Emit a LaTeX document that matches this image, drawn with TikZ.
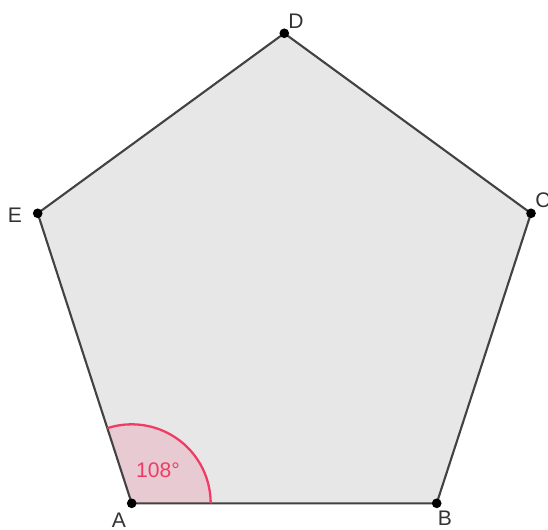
\documentclass[tikz,border=0pt]{standalone}
\usepackage{fontspec}
\setmainfont{Liberation Sans}
\usetikzlibrary{calc}
\definecolor{facegray}{RGB}{231,231,231}
\definecolor{edgegray}{RGB}{66,66,66}
\definecolor{anglered}{RGB}{240,60,100}
\definecolor{anglefill}{RGB}{232,202,210}

\begin{document}
\begin{tikzpicture}[x=0.02cm, y=-0.02cm, font=\fontsize{12}{14}\selectfont,
  pt/.style={circle, fill=black, inner sep=0pt, minimum size=5.5pt},
  lbl/.style={text=black!80, inner sep=1pt},
  side/.style={draw=edgegray, line width=1.2pt, line join=round}]
\useasboundingbox (0,0) rectangle (548,529);
% vertices
\coordinate (A) at (131.7,503.3);
\coordinate (B) at (436.7,503.3);
\coordinate (C) at (531,213.3);
\coordinate (D) at (284.3,33.3);
\coordinate (E) at (37.7,213.3);
% face
\fill[facegray] (A) -- (B) -- (C) -- (D) -- (E) -- cycle;
% angle at A
\fill[anglefill] (A) -- ++(79,0) arc[start angle=0, end angle=-108, radius=79] -- cycle;
\draw[side] (A) -- (B) -- (C) -- (D) -- (E) -- cycle;
\draw[anglered, line width=1.3pt] ($(A)+(79,0)$) arc[start angle=0, end angle=-108, radius=79];
\node[text=anglered, inner sep=0pt] (ang) at (158,470) {108°};
% points and labels
\foreach \p in {A,B,C,D,E} \node[pt] (dot\p) at (\p) {};
\node[lbl] (labA) at (119,520) {A};
\node[lbl] (labB) at (445,518) {B};
\node[lbl] (labC) at (543,200) {C};
\node[lbl] (labD) at (296,21) {D};
\node[lbl] (labE) at (15,215) {E};
\end{tikzpicture}
\end{document}
